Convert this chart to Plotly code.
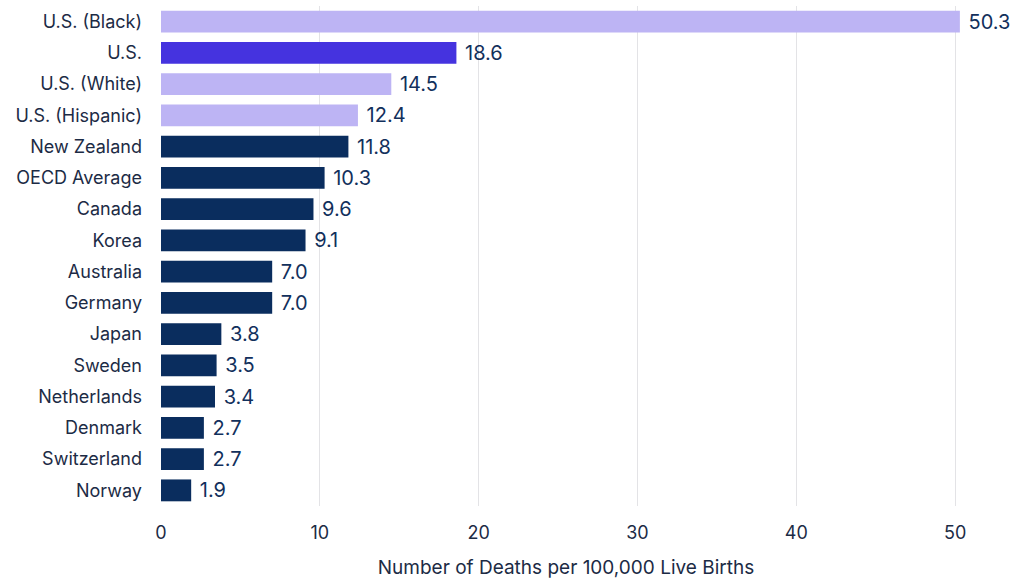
import plotly.graph_objects as go

# Maternal mortality rates, deaths per 100,000 live births
countries = [
    "U.S. (Black)", "U.S.", "U.S. (White)", "U.S. (Hispanic)", "New Zealand",
    "OECD Average", "Canada", "Korea", "Australia", "Germany", "Japan",
    "Sweden", "Netherlands", "Denmark", "Switzerland", "Norway",
]
rates = [50.3, 18.6, 14.5, 12.4, 11.8, 10.3, 9.6, 9.1, 7.0, 7.0, 3.8,
         3.5, 3.4, 2.7, 2.7, 1.9]

LIGHT = "#BDB4F4"
US = "#4533DF"
NAVY = "#0A2D5E"
TEXT = "#1C2B45"

colors = []
for c in countries:
    if c == "U.S.":
        colors.append(US)
    elif c.startswith("U.S."):
        colors.append(LIGHT)
    else:
        colors.append(NAVY)

FONT = "Inter"

fig = go.Figure(
    go.Bar(
        x=rates,
        y=countries,
        orientation="h",
        marker=dict(color=colors, line=dict(width=0)),
        text=[f"{v:.1f}" for v in rates],
        texttemplate=" %{text}",
        textposition="outside",
        constraintext="none",
        textfont=dict(family=FONT, size=20, color="#12305C"),
        cliponaxis=False,
        width=0.7,
    )
)

fig.update_layout(
    width=1016,
    height=582,
    margin=dict(l=161, r=45, t=6, b=76),
    paper_bgcolor="white",
    plot_bgcolor="white",
    font=dict(family=FONT, size=18, color=TEXT),
    showlegend=False,
    xaxis=dict(
        range=[0, 51],
        tickvals=[0, 10, 20, 30, 40, 50],
        showgrid=True,
        gridcolor="#E3E3E6",
        gridwidth=1,
        zeroline=False,
        showline=False,
        ticks="",
        ticklabelstandoff=14,
        tickfont=dict(family=FONT, size=18, color=TEXT),
        title=dict(
            text="Number of Deaths per 100,000 Live Births",
            font=dict(family=FONT, size=19, color=TEXT),
            standoff=18,
        ),
    ),
    yaxis=dict(
        categoryorder="array",
        categoryarray=countries,
        autorange="reversed",
        showgrid=False,
        showline=False,
        ticks="",
        ticklabelstandoff=18,
        tickfont=dict(family=FONT, size=18, color=TEXT),
    ),
)

fig.write_html("out.html")
